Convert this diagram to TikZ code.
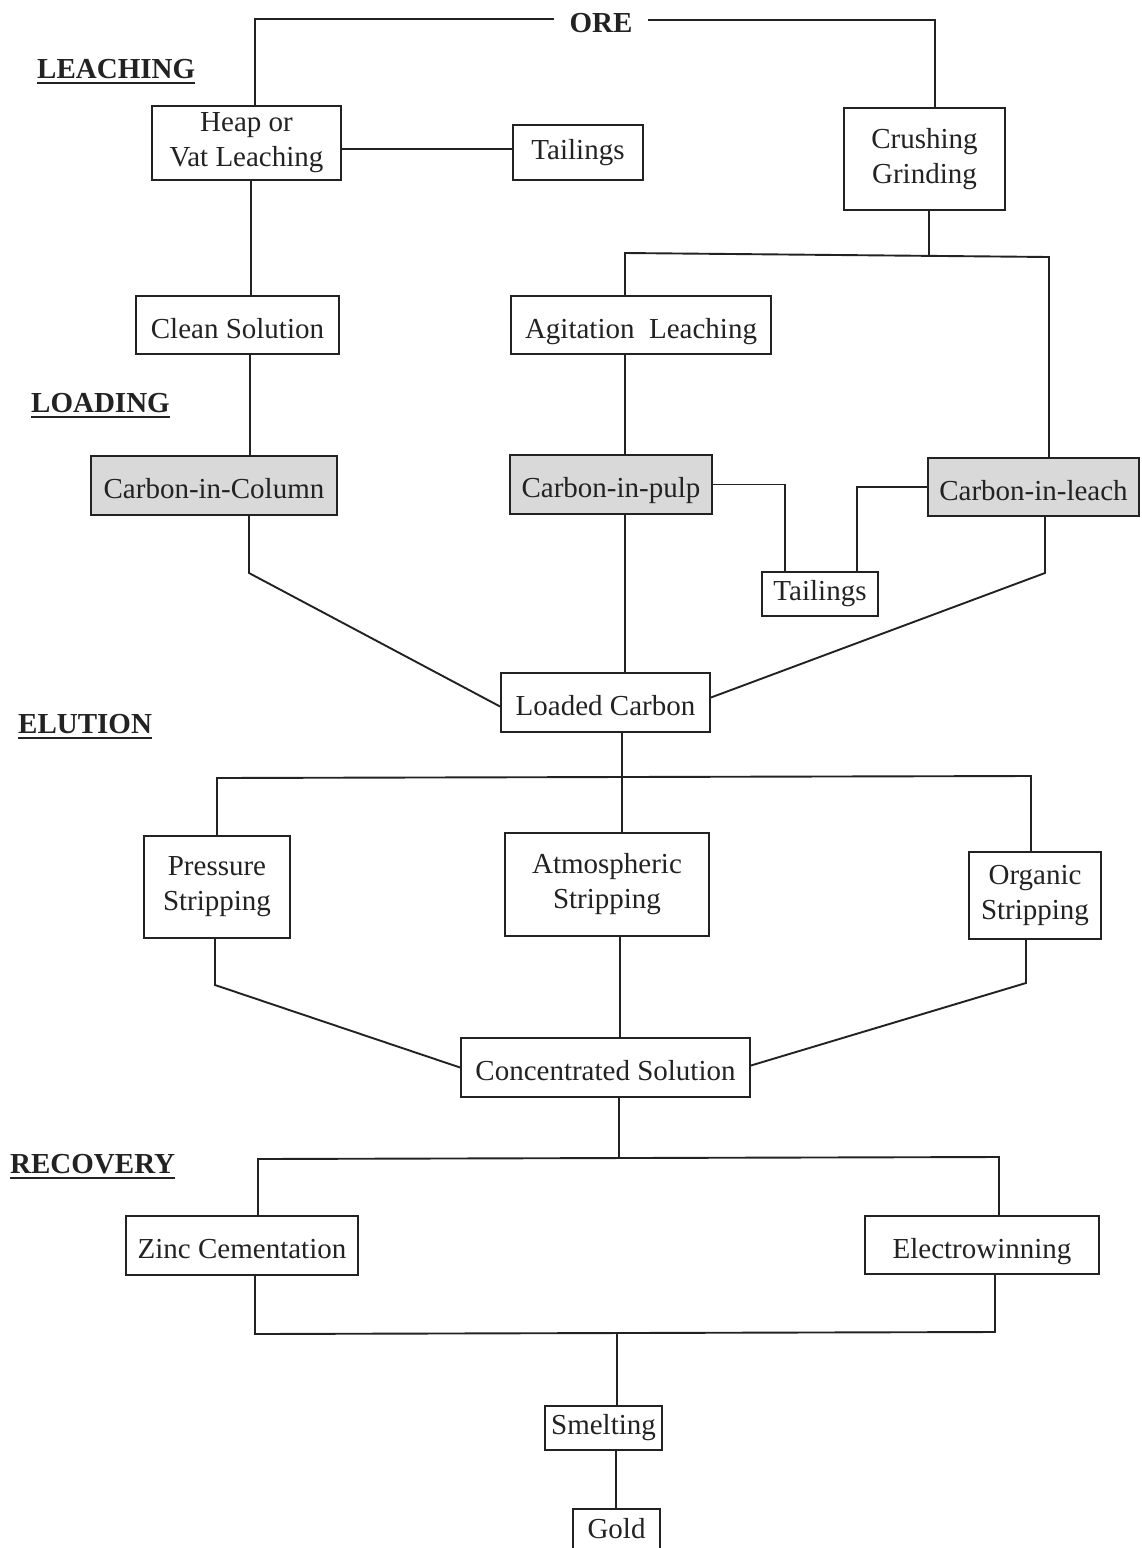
\documentclass[tikz,border=0pt]{standalone}
\usepackage{fontspec}
\setmainfont{Liberation Serif}
\definecolor{ink}{HTML}{222222}
\definecolor{shade}{HTML}{D9D9D9}
\begin{document}
\begin{tikzpicture}[x=1pt,y=-1pt,
  ln/.style={line width=1.9pt, draw=ink},
  box/.style={draw=ink, line width=1.9pt, inner sep=0pt, align=center, text=ink,
              font=\fontsize{29}{35}\selectfont},
  one/.style={text height=26pt, text depth=0pt},
  shaded/.style={box, one, fill=shade},
  lbl/.style={inner sep=0pt, text=ink, font=\fontsize{29}{35}\selectfont\bfseries},
  ul/.style={line width=1.6pt, draw=ink}]
\useasboundingbox (0,0) rectangle (1141,1548);

% section labels
\node[lbl, anchor=base west] (sLeach) at (37,78) {LEACHING};
\node[lbl, anchor=base west] (sLoad) at (31,412) {LOADING};
\node[lbl, anchor=base west] (sElut) at (18,733) {ELUTION};
\node[lbl, anchor=base west] (sRec) at (10,1173) {RECOVERY};
\foreach \s in {sLeach,sLoad,sElut,sRec}
  \draw[ul] ([yshift=-5pt]\s.base west) -- ([yshift=-5pt]\s.base east);

\node[lbl, inner xsep=15pt] (ore) at (601,23) {ORE};

% boxes
\node[box, minimum width=189pt, minimum height=74pt] (heap) at (246.5,143) {Heap or\\Vat Leaching};
\node[box, minimum width=130pt, minimum height=55pt] (tail1) at (578,152.5) {Tailings};
\node[box, minimum width=161pt, minimum height=102pt] (crush) at (924.5,159) {Crushing\\Grinding};
\node[box, one, minimum width=203pt, minimum height=58pt] (clean) at (237.5,325) {Clean Solution};
\node[box, one, minimum width=260pt, minimum height=58pt] (agit) at (641,325) {Agitation~ Leaching};
\node[shaded, minimum width=246pt, minimum height=59pt] (cic) at (214,485.5) {Carbon-in-Column};
\node[shaded, minimum width=202pt, minimum height=59pt] (cip) at (611,484.5) {Carbon-in-pulp};
\node[shaded, minimum width=211pt, minimum height=58pt] (cil) at (1033.5,487) {Carbon-in-leach};
\node[box, minimum width=116pt, minimum height=44pt] (tail2) at (820,594) {Tailings};
\node[box, one, minimum width=209pt, minimum height=59pt] (loaded) at (605.5,702.5) {Loaded Carbon};
\node[box, minimum width=146pt, minimum height=102pt] (press) at (217,887) {Pressure\\Stripping};
\node[box, minimum width=204pt, minimum height=103pt] (atm) at (607,884.5) {Atmospheric\\Stripping};
\node[box, minimum width=132pt, minimum height=87pt] (org) at (1035,895.5) {Organic\\Stripping};
\node[box, one, minimum width=289pt, minimum height=59pt] (conc) at (605.5,1067.5) {Concentrated Solution};
\node[box, one, minimum width=232pt, minimum height=59pt] (zinc) at (242,1245.5) {Zinc Cementation};
\node[box, one, minimum width=234pt, minimum height=58pt] (elec) at (982,1245) {Electrowinning};
\node[box, minimum width=117pt, minimum height=44pt] (smelt) at (603.5,1428) {Smelting};
\node[box, anchor=north, minimum width=87pt, minimum height=60pt, text depth=22pt] (gold) at (616.5,1508) {Gold};

% junction coordinates
\coordinate (oreL) at (255,19);
\coordinate (oreR) at (935,20);
\coordinate (j1) at (929,255);
\coordinate (j1L) at (625,253);
\coordinate (j1R) at (1049,257);
\coordinate (kCIC) at (249,573);
\coordinate (kCIL) at (1045,573);
\coordinate (j2) at (622,777);
\coordinate (j2L) at (217,778);
\coordinate (j2R) at (1031,776);
\coordinate (kPr) at (215,985);
\coordinate (kOr) at (1026,983);
\coordinate (j3) at (619,1158);
\coordinate (j3L) at (258,1159);
\coordinate (j3R) at (999,1157);
\coordinate (j4L) at (255,1334);
\coordinate (j4R) at (995,1332);
\coordinate (j4) at (617,1333);

% connectors
\draw[ln] (ore.west |- oreL) -- (oreL) -- (oreL |- heap.north);
\draw[ln] (ore.east |- oreR) -- (oreR) -- (oreR |- crush.north);
\draw[ln] (heap.east |- 0,149) -- (tail1.west |- 0,149);
\draw[ln] (251,0 |- heap.south) -- (251,0 |- clean.north);
\draw[ln] (250,0 |- clean.south) -- (250,0 |- cic.north);
\draw[ln] (j1 |- crush.south) -- (j1);
\draw[ln] (j1L |- agit.north) -- (j1L) -- (j1R) -- (j1R |- cil.north);
\draw[ln] (625,0 |- agit.south) -- (625,0 |- cip.north);
\draw[ln] (cip.east) -- (785,0 |- cip.east) -- (785,0 |- tail2.north);
\draw[ln] (cil.west) -- (857,0 |- cil.west) -- (857,0 |- tail2.north);
\draw[ln] (kCIC |- cic.south) -- (kCIC) -- ([yshift=-4pt]loaded.west);
\draw[ln] (625,0 |- cip.south) -- (625,0 |- loaded.north);
\draw[ln] (kCIL |- cil.south) -- (kCIL) -- ([yshift=5pt]loaded.east);
\draw[ln] (j2 |- loaded.south) -- (j2);
\draw[ln] (j2L |- press.north) -- (j2L) -- (j2R) -- (j2R |- org.north);
\draw[ln] (j2) -- (j2 |- atm.north);
\draw[ln] (kPr |- press.south) -- (kPr) -- (conc.west);
\draw[ln] (620,0 |- atm.south) -- (620,0 |- conc.north);
\draw[ln] (kOr |- org.south) -- (kOr) -- ([yshift=2pt]conc.east);
\draw[ln] (j3 |- conc.south) -- (j3);
\draw[ln] (j3L |- zinc.north) -- (j3L) -- (j3R) -- (j3R |- elec.north);
\draw[ln] (j4L |- zinc.south) -- (j4L) -- (j4R) -- (j4R |- elec.south);
\draw[ln] (j4) -- (j4 |- smelt.north);
\draw[ln] (616,0 |- smelt.south) -- (616,0 |- gold.north);
\end{tikzpicture}
\end{document}
